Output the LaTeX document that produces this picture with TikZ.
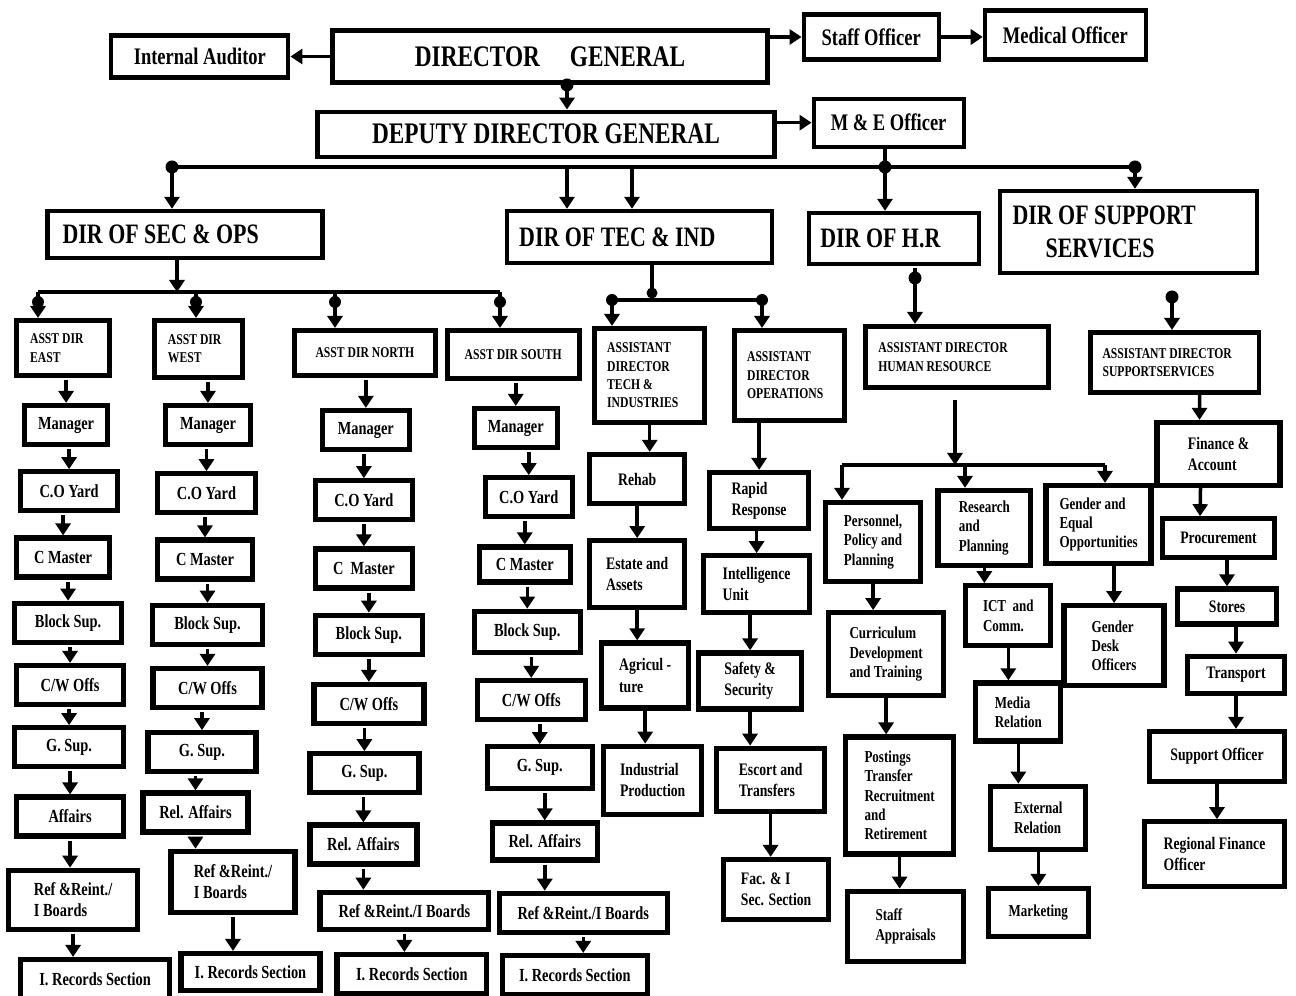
\documentclass[tikz,border=0pt]{standalone}
\usepackage{fontspec}
\newfontfamily\orgfont{Liberation Serif}[FakeStretch=0.78]
\usepackage{tikz}
\usetikzlibrary{arrows.meta, positioning}

\begin{document}
\begin{tikzpicture}[
  x=0.02cm, y=-0.02cm,
  orgbox/.style={rectangle, draw, line width=2.4pt, align=center, inner sep=2pt},
  dgbox/.style={orgbox, font=\orgfont\bfseries\fontsize{17}{19}\selectfont},
  dirbox/.style={orgbox, align=flush left, font=\orgfont\bfseries\fontsize{16}{19}\selectfont},
  offbox/.style={orgbox, font=\orgfont\bfseries\fontsize{13.5}{15}\selectfont},
  adbox/.style={orgbox, line width=2.8pt, align=flush left, font=\orgfont\bfseries\fontsize{8.5}{10.5}\selectfont},
  sbox/.style={orgbox, line width=3pt, minimum height=0.78cm, font=\orgfont\bfseries\fontsize{10.5}{12}\selectfont},
  rbox/.style={orgbox, line width=3pt, minimum height=0.78cm, align=left, font=\orgfont\bfseries\fontsize{10}{12}\selectfont},
  hbox/.style={orgbox, line width=3pt, align=left, font=\orgfont\bfseries\fontsize{9.5}{11}\selectfont},
  busline/.style={line width=2.2pt},
  arr/.style={-{Triangle[width=0.3cm,length=0.24cm]}, line width=2pt},
  tarr/.style={arr, shorten <=0.04cm}
]
\path[use as bounding box, fill=white] (0,0) rectangle (1296,996);

% Top
\node[dgbox, minimum width=8.7cm, minimum height=1.04cm] (dg) at (550,56.5) {DIRECTOR\quad GENERAL};
\node[offbox, minimum width=3.54cm, minimum height=0.84cm, left=0.8cm of dg] (ia) {Internal Auditor};
\node[offbox, minimum width=2.7cm, minimum height=0.9cm, right=0.64cm of dg, yshift=0.39cm] (so) {Staff Officer};
\node[offbox, minimum width=3.22cm, minimum height=0.98cm, right=0.84cm of so, yshift=0.04cm] (mo) {Medical Officer};
\node[dgbox, minimum width=9.14cm, minimum height=0.9cm, below=0.5cm of dg, xshift=-0.08cm] (ddg) {DEPUTY DIRECTOR GENERAL};
\node[offbox, minimum width=3.0cm, minimum height=0.96cm, right=0.7cm of ddg, yshift=0.23cm] (me) {M \& E Officer};

% Directors
\node[dirbox, text width=4.9cm, minimum width=5.5cm, minimum height=0.94cm, below=1.0cm of ddg, xshift=-7.22cm] (sec) {DIR OF SEC \& OPS};
\node[dirbox, text width=4.8cm, minimum width=5.3cm, minimum height=1.04cm, right=3.6cm of sec, yshift=-0.05cm] (tec) {DIR OF TEC \& IND};
\node[dirbox, text width=2.94cm, minimum width=3.4cm, minimum height=1.02cm, right=0.66cm of tec, yshift=-0.03cm] (hr) {DIR OF H.R};
\node[dirbox, text width=4.64cm, minimum width=5.14cm, minimum height=1.64cm, right=0.34cm of hr, yshift=0.13cm] (sup) {DIR OF SUPPORT\\\hspace*{0.66cm}SERVICES};

% Assistant directors
\node[adbox, text width=1.32cm, minimum width=1.86cm, minimum height=1.1cm, below=1.16cm of sec, xshift=-2.44cm] (ade) {ASST DIR\\EAST};
\node[adbox, text width=1.22cm, minimum width=1.76cm, minimum height=1.14cm, right=0.8cm of ade, yshift=-0.02cm] (adw) {ASST DIR\\WEST};
\node[adbox, minimum width=2.82cm, minimum height=0.9cm, right=0.94cm of adw, yshift=-0.08cm] (adn) {ASST DIR NORTH};
\node[adbox, minimum width=2.64cm, minimum height=0.96cm, right=0.14cm of adn, yshift=-0.03cm] (ads) {ASST DIR SOUTH};
\node[adbox, text width=1.7cm, minimum width=2.2cm, minimum height=1.88cm, below=1.22cm of tec, xshift=0.21cm] (adt) {ASSISTANT\\DIRECTOR\\TECH \&\\INDUSTRIES};
\node[adbox, text width=1.7cm, minimum width=2.2cm, minimum height=1.8cm, right=0.5cm of adt] (ado) {ASSISTANT\\DIRECTOR\\OPERATIONS};
\node[adbox, text width=3.16cm, minimum width=3.66cm, minimum height=1.22cm, below=1.16cm of hr, xshift=1.27cm] (ahr) {ASSISTANT DIRECTOR\\HUMAN RESOURCE};
\node[adbox, text width=2.88cm, minimum width=3.38cm, minimum height=1.2cm, below=1.1cm of sup, xshift=0.92cm] (asu) {ASSISTANT DIRECTOR\\SUPPORTSERVICES};

% East
\node[sbox, minimum width=1.66cm, below=0.5cm of ade, xshift=0.06cm] (e1) {Manager};
\node[sbox, minimum width=1.94cm, below=0.44cm of e1, xshift=0.06cm] (e2) {C.O Yard};
\node[sbox, minimum width=1.86cm, below=0.44cm of e2, xshift=-0.12cm] (e3) {C Master};
\node[sbox, minimum width=2.14cm, below=0.42cm of e3, xshift=0.1cm] (e4) {Block Sup.};
\node[sbox, minimum width=2.14cm, below=0.36cm of e4, xshift=0.04cm] (e5) {C/W Offs};
\node[sbox, minimum width=2.18cm, below=0.36cm of e5, xshift=-0.02cm] (e6) {G. Sup.};
\node[sbox, minimum width=2.14cm, below=0.5cm of e6, xshift=0.02cm] (e7) {Affairs};
\node[sbox, minimum width=2.58cm, minimum height=1.18cm, below=0.58cm of e7, xshift=0.06cm, align=left] (e8) {Ref \&Reint./\\I Boards};
\node[sbox, minimum width=2.98cm, below=0.5cm of e8, xshift=0.44cm] (e9) {I. Records Section};

% West
\node[sbox, minimum width=1.7cm, below=0.46cm of adw, xshift=0.19cm] (w1) {Manager};
\node[sbox, minimum width=1.96cm, below=0.48cm of w1, xshift=-0.03cm] (w2) {C.O Yard};
\node[sbox, minimum width=1.9cm, below=0.44cm of w2, xshift=-0.03cm] (w3) {C Master};
\node[sbox, minimum width=2.2cm, below=0.42cm of w3, xshift=0.05cm] (w4) {Block Sup.};
\node[sbox, minimum width=2.18cm, below=0.38cm of w4] (w5) {C/W Offs};
\node[sbox, minimum width=2.16cm, below=0.4cm of w5, xshift=-0.11cm] (w6) {G. Sup.};
\node[sbox, minimum width=2.1cm, below=0.32cm of w6, xshift=-0.13cm] (w7) {Rel. Affairs};
\node[sbox, minimum width=2.48cm, minimum height=1.22cm, below=0.28cm of w7, xshift=0.75cm, align=left] (w8) {Ref \&Reint./\\I Boards};
\node[sbox, minimum width=2.78cm, minimum height=0.74cm, below=0.72cm of w8, xshift=0.35cm] (w9) {I. Records Section};

% North
\node[sbox, minimum width=1.74cm, below=0.6cm of adn, xshift=0.02cm] (n1) {Manager};
\node[sbox, minimum width=1.94cm, below=0.52cm of n1, xshift=-0.04cm] (n2) {C.O Yard};
\node[sbox, minimum width=1.94cm, below=0.48cm of n2] (n3) {C\ \ Master};
\node[sbox, minimum width=2.14cm, below=0.44cm of n3, xshift=0.1cm] (n4) {Block Sup.};
\node[sbox, minimum width=2.2cm, below=0.5cm of n4] (n5) {C/W Offs};
\node[sbox, minimum width=2.18cm, below=0.5cm of n5, xshift=-0.09cm] (n6) {G. Sup.};
\node[sbox, minimum width=2.14cm, below=0.54cm of n6, xshift=-0.02cm] (n7) {Rel. Affairs};
\node[sbox, minimum width=3.38cm, minimum height=0.74cm, below=0.46cm of n7, xshift=0.82cm] (n8) {Ref \&Reint./I Boards};
\node[sbox, minimum width=3.0cm, below=0.4cm of n8, xshift=0.15cm] (n9) {I. Records Section};

% South
\node[sbox, minimum width=1.66cm, below=0.5cm of ads, xshift=0.05cm] (s1) {Manager};
\node[sbox, minimum width=1.74cm, below=0.5cm of s1, xshift=0.26cm] (s2) {C.O Yard};
\node[sbox, minimum width=1.82cm, minimum height=0.7cm, below=0.5cm of s2, xshift=-0.08cm] (s3) {C Master};
\node[sbox, minimum width=2.12cm, minimum height=0.82cm, below=0.48cm of s3, xshift=0.05cm] (s4) {Block Sup.};
\node[sbox, minimum width=2.16cm, below=0.46cm of s4, xshift=0.08cm] (s5) {C/W Offs};
\node[sbox, minimum width=2.1cm, minimum height=0.84cm, below=0.44cm of s5, xshift=0.17cm] (s6) {G. Sup.};
\node[sbox, minimum width=2.1cm, minimum height=0.74cm, below=0.58cm of s6, xshift=0.1cm] (s7) {Rel. Affairs};
\node[sbox, minimum width=3.36cm, below=0.56cm of s7, xshift=0.77cm] (s8) {Ref \&Reint./I Boards};
\node[sbox, minimum width=2.9cm, below=0.36cm of s8, xshift=-0.17cm] (s9) {I. Records Section};

% Tech & industries
\node[rbox, minimum width=1.9cm, minimum height=0.98cm, below=0.54cm of adt, xshift=-0.25cm] (t1) {Rehab};
\node[rbox, minimum width=1.9cm, minimum height=1.34cm, below=0.64cm of t1] (t2) {Estate and\\Assets};
\node[rbox, minimum width=1.74cm, minimum height=1.3cm, below=0.6cm of t2, xshift=0.16cm] (t3) {Agricul -\\ture};
\node[rbox, minimum width=1.96cm, minimum height=1.36cm, below=0.66cm of t3, xshift=0.15cm] (t4) {Industrial\\Production};

% Operations
\node[rbox, minimum width=1.98cm, minimum height=1.12cm, below=0.94cm of ado, xshift=-0.61cm] (o1) {Rapid\\Response};
\node[rbox, minimum width=2.12cm, minimum height=1.14cm, below=0.44cm of o1, xshift=-0.05cm] (o2) {Intelligence\\Unit};
\node[rbox, minimum width=2.06cm, minimum height=1.12cm, below=0.7cm of o2, xshift=-0.13cm] (o3) {Safety \&\\Security};
\node[rbox, minimum width=2.16cm, minimum height=1.26cm, below=0.68cm of o3, xshift=0.41cm] (o4) {Escort and\\Transfers};
\node[rbox, minimum width=2.1cm, minimum height=1.2cm, below=0.86cm of o4, xshift=0.11cm] (o5) {Fac. \& I\\Sec. Section};

% Human resource
\node[hbox, minimum width=1.86cm, minimum height=1.5cm, below=1.96cm of ahr, xshift=0.54cm] (h2) {Research\\and\\Planning};
\node[hbox, minimum width=1.9cm, minimum height=1.58cm, left=0.24cm of h2, yshift=-0.28cm] (h1) {Personnel,\\Policy and\\Planning};
\node[hbox, minimum width=2.1cm, minimum height=1.56cm, right=0.2cm of h2, yshift=0.07cm] (h3) {Gender and\\Equal\\Opportunities};
\node[hbox, minimum width=1.7cm, minimum height=1.2cm, below=0.3cm of h2, xshift=0.48cm] (h4) {ICT\ \ and\\Comm.};
\node[hbox, minimum width=2.0cm, minimum height=1.6cm, below=0.74cm of h3, xshift=0.31cm] (h5) {Gender\\Desk\\Officers};
\node[hbox, minimum width=2.3cm, minimum height=1.66cm, below=0.52cm of h1, xshift=0.26cm] (h6) {Curriculum\\Development\\and Training};
\node[hbox, minimum width=1.7cm, minimum height=1.16cm, below=0.64cm of h4, xshift=0.2cm] (h7) {Media\\Relation};
\node[hbox, minimum width=2.16cm, minimum height=2.34cm, below=0.72cm of h6, xshift=0.27cm] (h8) {Postings\\Transfer\\Recruitment\\and\\Retirement};
\node[hbox, minimum width=2.32cm, minimum height=1.4cm, below=0.64cm of h8, xshift=0.12cm] (h9) {Staff\\Appraisals};
\node[hbox, minimum width=1.9cm, minimum height=1.26cm, below=0.8cm of h7, xshift=0.4cm] (h10) {External\\Relation};
\node[hbox, minimum width=2.0cm, minimum height=0.96cm, below=0.68cm of h10] (h11) {Marketing};

% Support services
\node[rbox, minimum width=2.46cm, minimum height=1.26cm, below=0.5cm of asu, xshift=0.88cm] (u1) {Finance \&\\Account};
\node[rbox, minimum width=2.24cm, below=0.56cm of u1] (u2) {Procurement};
\node[rbox, minimum width=1.98cm, minimum height=0.7cm, below=0.52cm of u2, xshift=0.17cm] (u3) {Stores};
\node[rbox, minimum width=1.94cm, minimum height=0.74cm, below=0.54cm of u3, xshift=0.18cm] (u4) {Transport};
\node[rbox, minimum width=2.7cm, minimum height=1.0cm, below=0.66cm of u4, xshift=-0.38cm] (u5) {Support Officer};
\node[rbox, minimum width=2.8cm, minimum height=1.3cm, below=0.7cm of u5, xshift=-0.05cm] (u6) {Regional Finance\\Officer};

% Junctions
\coordinate (dgd) at (567,85);
\coordinate (busl) at (172,167);
\coordinate (busm) at (567,167);
\coordinate (busn) at (632,167);
\coordinate (bush) at (885,167);
\coordinate (busr) at (1135,167);
\coordinate (secb) at (177,292);
\coordinate (sbe) at (38,292);
\coordinate (sbw) at (196,292);
\coordinate (sbn) at (335,292);
\coordinate (sbs) at (500,292);
\coordinate (tecb) at (652,300);
\coordinate (tbl) at (612,300);
\coordinate (tbr) at (762,300);
\coordinate (hrd) at (915,268);
\coordinate (supd) at (1172,297);
\coordinate (hrb) at (955,465);
\coordinate (hrl) at (842,465);
\coordinate (hrm) at (965,465);
\coordinate (hrr) at (1105,465);

% Top arrows
\draw[arr] (dg.west) -- (ia.east);
\draw[arr] (so.west -| dg.east) -- (so.west);
\draw[arr] (so.east) -- (so.east -| mo.west);
\draw[arr] (me.west -| ddg.east) -- (me.west);
\draw[arr] (dgd) -- (dgd |- ddg.north);
\draw[busline] (busl) -- (busr);
\draw[busline] (bush |- me.south) -- (bush);
\draw[arr] (busl) -- (busl |- sec.north);
\draw[arr] (busm) -- (busm |- tec.north);
\draw[arr] (busn) -- (busn |- tec.north);
\draw[arr] (bush) -- (bush |- hr.north);
\draw[arr] (busr) -- (busr |- sup.north);
\fill (dgd) circle (0.13cm) (busl) circle (0.13cm) (bush) circle (0.13cm) (busr) circle (0.13cm);

% Sec & ops branches
\draw[arr] (secb |- sec.south) -- (secb);
\draw[busline] (sbe) -- (sbs);
\draw[arr] (sbe) -- (sbe |- ade.north);
\draw[arr] (sbw) -- (sbw |- adw.north);
\draw[arr] (sbn) -- (sbn |- adn.north);
\draw[arr] (sbs) -- (sbs |- ads.north);
\fill ([yshift=-0.2cm]sbe) circle (0.12cm) ([yshift=-0.2cm]sbw) circle (0.12cm)
      ([yshift=-0.2cm]sbn) circle (0.12cm) ([yshift=-0.2cm]sbs) circle (0.12cm);

% Tec, HR, support branches
\draw[busline] (tecb |- tec.south) -- (tecb);
\draw[busline] (tbl) -- (tbr);
\draw[arr] (tbl) -- (tbl |- adt.north);
\draw[arr] (tbr) -- (tbr |- ado.north);
\fill (tbl) circle (0.12cm) (tbr) circle (0.12cm) ([yshift=0.14cm]tecb) circle (0.11cm);
\draw[arr] (hrd) -- (hrd |- ahr.north);
\fill ([yshift=-0.2cm]hrd) circle (0.13cm);
\draw[arr] (supd) -- (supd |- asu.north);
\fill (supd) circle (0.13cm);

% East column
\draw[tarr] (e1.north |- ade.south) -- (e1.north);
\draw[tarr] (e2.north |- e1.south) -- (e2.north);
\draw[tarr] (e3.north |- e2.south) -- (e3.north);
\draw[tarr] (e4.north |- e3.south) -- (e4.north);
\draw[tarr] (e5.north |- e4.south) -- (e5.north);
\draw[tarr] (e6.north |- e5.south) -- (e6.north);
\draw[tarr] (e7.north |- e6.south) -- (e7.north);
\draw[tarr] (e7.south) -- (e7.south |- e8.north);
\draw[tarr] (e8.south) -- (e8.south |- e9.north);

% West column
\draw[tarr] (w1.north |- adw.south) -- (w1.north);
\draw[tarr] (w2.north |- w1.south) -- (w2.north);
\draw[tarr] (w3.north |- w2.south) -- (w3.north);
\draw[tarr] (w4.north |- w3.south) -- (w4.north);
\draw[tarr] (w5.north |- w4.south) -- (w5.north);
\draw[tarr] (w6.north |- w5.south) -- (w6.north);
\draw[tarr] (w7.north |- w6.south) -- (w7.north);
\draw[tarr] (w7.south) -- (w7.south |- w8.north);
\draw[tarr] (w8.south) -- (w8.south |- w9.north);

% North column
\draw[tarr] (n1.north |- adn.south) -- (n1.north);
\draw[tarr] (n2.north |- n1.south) -- (n2.north);
\draw[tarr] (n3.north |- n2.south) -- (n3.north);
\draw[tarr] (n4.north |- n3.south) -- (n4.north);
\draw[tarr] (n5.north |- n4.south) -- (n5.north);
\draw[tarr] (n6.north |- n5.south) -- (n6.north);
\draw[tarr] (n7.north |- n6.south) -- (n7.north);
\draw[tarr] (n7.south) -- (n7.south |- n8.north);
\draw[tarr] (n8.south) -- (n8.south |- n9.north);

% South column
\draw[tarr] (s1.north |- ads.south) -- (s1.north);
\draw[tarr] (s2.north |- s1.south) -- (s2.north);
\draw[tarr] (s3.north |- s2.south) -- (s3.north);
\draw[tarr] (s4.north |- s3.south) -- (s4.north);
\draw[tarr] (s5.north |- s4.south) -- (s5.north);
\draw[tarr] (s6.north |- s5.south) -- (s6.north);
\draw[tarr] (s7.north |- s6.south) -- (s7.north);
\draw[tarr] (s7.south) -- (s7.south |- s8.north);
\draw[tarr] (s8.south) -- (s8.south |- s9.north);

% Tech and operations columns
\draw[arr] (adt.south) -- (adt.south |- t1.north);
\draw[arr] (t1.south) -- (t1.south |- t2.north);
\draw[arr] (t2.south) -- (t2.south |- t3.north);
\draw[arr] (t3.south) -- (t3.south |- t4.north);
\draw[arr] (o1.north |- ado.south) -- (o1.north);
\draw[arr] (o2.north |- o1.south) -- (o2.north);
\draw[arr] (o3.north |- o2.south) -- (o3.north);
\draw[arr] (o3.south) -- (o3.south |- o4.north);
\draw[arr] (o4.south) -- (o4.south |- o5.north);

% HR tree
\draw[arr, shorten <=0.2cm] (hrb |- ahr.south) -- (hrb);
\draw[busline] (hrl) -- (hrr);
\draw[arr] (hrl) -- (hrl |- h1.north);
\draw[arr] (hrm) -- (hrm |- h2.north);
\draw[arr] (hrr) -- (hrr |- h3.north);
\draw[arr] (h2.south) -- (h2.south |- h4.north);
\draw[arr] (h5.north |- h3.south) -- (h5.north);
\draw[arr] (h1.south) -- (h1.south |- h6.north);
\draw[arr] (h4.south) -- (h4.south |- h7.north);
\draw[arr] (h6.south) -- (h6.south |- h8.north);
\draw[arr] (h8.south) -- (h8.south |- h9.north);
\draw[arr] (h7.south) -- (h7.south |- h10.north);
\draw[arr] (h10.south) -- (h11.north);

% Support column
\draw[arr] ([xshift=0.5cm]asu.south) -- ([xshift=-0.38cm]u1.north);
\draw[arr] ([xshift=-0.36cm]u1.south) -- ([xshift=-0.37cm]u2.north);
\draw[arr] (u3.north |- u2.south) -- (u3.north);
\draw[arr] (u4.north |- u3.south) -- (u4.north);
\draw[arr] (u4.south) -- (u4.south |- u5.north);
\draw[arr] (u5.south) -- (u5.south |- u6.north);

\end{tikzpicture}
\end{document}
